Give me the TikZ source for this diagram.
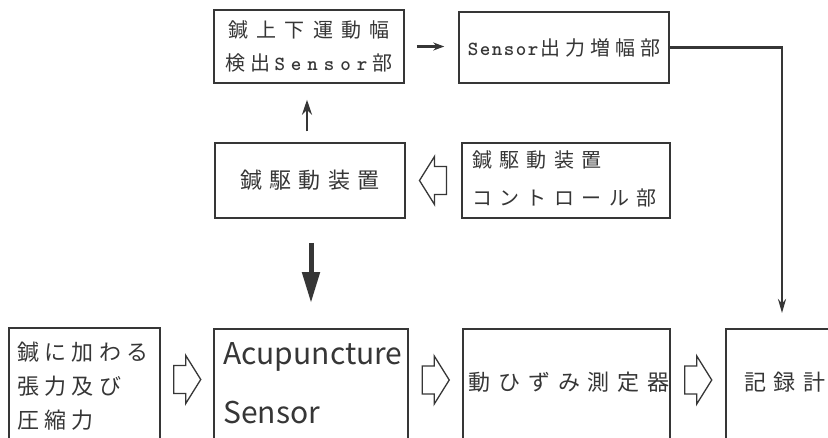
\documentclass[tikz,border=0pt]{standalone}
\usepackage{fontspec}
\setmainfont{Noto Sans CJK JP}
\usetikzlibrary{arrows.meta,calc}
\definecolor{ink}{HTML}{363636}
\newcommand\spacedsensor[1]{S\kern#1 e\kern#1 n\kern#1 s\kern#1 o\kern#1 r}
\tikzset{pics/harrow/.style={code={%
  \draw[draw=ink, line width=1.3pt, line join=miter]
    (-13,-14)--(-1,-14)--(-1,-24)--(14,0)--(-1,24)--(-1,14)--(-13,14)--cycle;}}}
\begin{document}
\begin{tikzpicture}[x=1pt,y=-1pt,
  every node/.style={text=ink},
  box/.style={draw=ink, line width=1.5pt, inner sep=0pt},
  ln/.style={draw=ink, line width=2.2pt},
  txt/.style={inner sep=0pt}]
\useasboundingbox (0,0) rectangle (828,437);
\clip (0,0) rectangle (828,437);
\fill[white] (0,0) rectangle (828,437);

% top row
\node[box, minimum width=190pt, minimum height=73pt, align=center,
  font=\fontsize{20pt}{33pt}\selectfont] (A) at (309,46.5)
  {{\addfontfeature{LetterSpace=42}鍼上下運動幅}\\検\kern5pt 出\kern4pt{\ttfamily\bfseries\spacedsensor{6pt}}\kern5pt 部};
\node[box, minimum width=210pt, minimum height=71pt,
  font=\fontsize{20pt}{24pt}\selectfont] (B) at (564,47.5)
  {{\ttfamily\bfseries\spacedsensor{1.5pt}\kern2pt}{\addfontfeature{LetterSpace=25}出力増幅部}};

% middle row
\node[box, minimum width=190pt, minimum height=75pt,
  font=\fontsize{22pt}{26pt}\selectfont\addfontfeature{LetterSpace=34}] (C) at (310,180.5) {鍼駆動装置};
\node[box, minimum width=208pt, minimum height=75pt] (D) at (566,180.5) {};
\node[txt, anchor=west, align=left,
  font=\fontsize{20pt}{38pt}\selectfont\addfontfeature{LetterSpace=37}] (Dt) at (472,179)
  {鍼駆動装置\\コントロール部};

% bottom row
\node[box, minimum width=151pt, minimum height=130pt, anchor=north west] (E) at (8,327) {};
\node[txt, anchor=north west, align=left,
  font=\fontsize{22pt}{34pt}\selectfont\addfontfeature{LetterSpace=24}] (Et) at (17,342)
  {鍼に加わる\\張力及び\\圧縮力};
\node[box, minimum width=194pt, minimum height=130pt, anchor=north west] (F) at (213,328) {};
\node[txt, anchor=base west, font=\fontsize{30pt}{36pt}\selectfont] (Ft1) at (223,364) {Acupuncture};
\node[txt, anchor=base west, font=\fontsize{30pt}{36pt}\selectfont] (Ft2) at (223,423) {Sensor};
\node[box, minimum width=207pt, minimum height=130pt, anchor=north west] (G) at (462,328) {};
\node[txt, font=\fontsize{22pt}{26pt}\selectfont\addfontfeature{LetterSpace=36}] (Gt) at (569,382) {動ひずみ測定器};
\node[box, minimum width=150pt, minimum height=130pt, anchor=north west] (H) at (725,328) {};
\node[txt, font=\fontsize{22pt}{26pt}\selectfont\addfontfeature{LetterSpace=32}] (Ht) at (785,382) {記録計};

% connectors
\draw[ln, -{Stealth[length=11pt,width=8pt]}, shorten <=12pt, shorten >=14pt]
  (A.east) -- (A.east -| B.west);
\draw[ln, line width=2.6pt, -{Stealth[length=15pt,width=10pt]}, shorten <=11pt, shorten >=16pt]
  ([xshift=-3pt]C.north) -- ([xshift=-3pt]C.north |- A.south);
\draw[draw=ink, line width=5pt, -{Triangle[length=31pt,width=17pt]}, shorten <=24pt, shorten >=25pt]
  ([xshift=1pt]C.south) -- ([xshift=1pt]C.south |- F.north);
\coordinate (rt) at ($(H.north west)+(57,-15)$);
\draw[ln, -{Stealth[length=14pt,width=8pt]}] (B.east) -| (rt);

% hollow arrows
\coordinate (h0) at ($(C.east)!.5!(D.west)$);
\coordinate (h1) at ($(E.north east)!.5!(F.north west)+(0,52)$);
\coordinate (h2) at ($(F.north east)!.5!(G.north west)+(0,52)$);
\coordinate (h3) at ($(G.north east)!.5!(H.north west)+(0,52)$);
\pic[rotate=180] at (h0) {harrow};
\pic at (h1) {harrow};
\pic at (h2) {harrow};
\pic at (h3) {harrow};
\end{tikzpicture}
\end{document}
